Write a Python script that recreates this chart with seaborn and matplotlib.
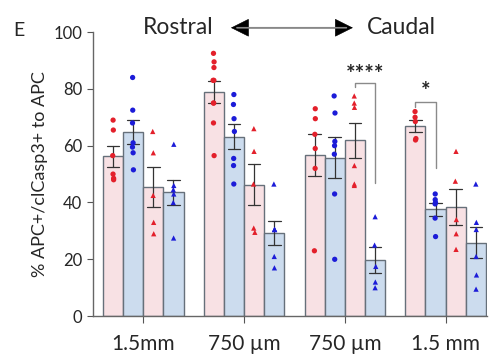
import numpy as np
import pandas as pd
import matplotlib.pyplot as plt
import seaborn as sns

## categories (rostral -> caudal) and tick labels
regions = ['rostral_1.5', 'rostral_750', 'caudal_750', 'caudal_1.5']
tick_labels = ['1.5mm', '750 µm', '750 µm', '1.5 mm']
series = ['red_circle', 'blue_circle', 'red_triangle', 'blue_triangle']

## individual points (% APC+/clCasp3+ to APC)
red_circle = [
    [69, 65.5, 56.5, 50, 48, 48.5],
    [92.5, 89.5, 87.5, 83, 83, 75, 75, 68, 56.5],
    [73, 69.5, 64, 59, 52, 23],
    [72, 70, 68.5, 62.5, 62],
]
blue_circle = [
    [84, 72.5, 68, 61, 59.5, 57.5, 51.5],
    [78, 74.5, 69.5, 65, 55.5, 53, 46.5],
    [77.5, 71.5, 61.5, 60, 57, 43, 20],
    [43, 41, 40, 39.5, 34.5, 28],
]
red_triangle = [
    [65, 57.5, 42.5, 33, 29],
    [66, 58, 46.5, 31, 29.5],
    [77.5, 75, 73.5, 53, 46, 46.5],
    [58, 47.5, 34, 29, 23.5],
]
blue_triangle = [
    [60.5, 46, 44.5, 43, 40, 27.5],
    [46.5, 30.5, 30.5, 30.5, 21, 17],
    [35, 25, 17.5, 12, 10],
    [46.5, 33, 30.5, 21, 14.5, 9.5],
]

rows = []
for name, vals in zip(series, [red_circle, blue_circle, red_triangle, blue_triangle]):
    for reg, pts in zip(regions, vals):
        for v in pts:
            rows.append({'region': reg, 'series': name, 'value': v})
df = pd.DataFrame(rows)

fill_colors = {'red_circle': '#fcdde1', 'blue_circle': '#c6dcf4',
               'red_triangle': '#fcdde1', 'blue_triangle': '#c6dcf4'}
point_colors = {'red_circle': '#e3202b', 'blue_circle': '#1c1cd8',
                'red_triangle': '#e3202b', 'blue_triangle': '#1c1cd8'}

sns.set_style('white')
plt.rcParams['font.family'] = ['Lato', 'DejaVu Sans']

fig = plt.figure(figsize=(5.02, 3.56), dpi=100)
ax = fig.add_axes([0.185, 0.112, 0.785, 0.798])

sns.barplot(data=df, x='region', y='value', hue='series', order=regions,
            hue_order=series, palette=fill_colors, errorbar='se', capsize=0.5,
            err_kws={'color': '#333333', 'linewidth': 0.9},
            edgecolor='#66707a', linewidth=1, legend=False, ax=ax)

np.random.seed(3)
sns.stripplot(data=df[df.series.isin(['red_circle', 'blue_circle'])],
              x='region', y='value', hue='series', order=regions,
              hue_order=series, palette=point_colors, dodge=True, jitter=0.03,
              marker='o', size=3.8, linewidth=0, legend=False, zorder=3, ax=ax)
sns.stripplot(data=df[df.series.isin(['red_triangle', 'blue_triangle'])],
              x='region', y='value', hue='series', order=regions,
              hue_order=series, palette=point_colors, dodge=True, jitter=0.03,
              marker='^', size=3.8, linewidth=0, legend=False, zorder=3, ax=ax)

ax.set_xlim(-0.5, 3.41)
ax.set_ylim(0, 100)
ax.set_yticks(range(0, 101, 20))
ax.set_xticks(range(4))
ax.set_xticklabels(tick_labels, fontsize=15)
ax.tick_params(axis='y', labelsize=12, length=4, color='#555555', direction='out', left=True)
ax.tick_params(axis='x', length=5, color='#555555', direction='out', bottom=True, pad=8)
ax.set_xlabel('')
ax.set_ylabel('% APC+/clCasp3+ to APC', fontsize=13)
for s in ['top', 'right']:
    ax.spines[s].set_visible(False)
for s in ['left', 'bottom']:
    ax.spines[s].set_color('#666666')
    ax.spines[s].set_linewidth(1)

## significance brackets
def xpos(i, j):
    return i - 0.3 + 0.2 * j

def bracket(i, j1, j2, top, left_end, right_end, label, ly):
    x1, x2 = xpos(i, j1), xpos(i, j2)
    ax.plot([x1, x1, x2, x2], [left_end, top, top, right_end], color='#8a8a8a', lw=1, zorder=4)
    ax.text((x1 + x2) / 2, ly, label, ha='center', va='center', fontsize=16, fontweight='bold')

bracket(2, 2, 3, 82, 80.5, 47, '****', 85)
bracket(3, 0, 1, 75.5, 73.5, 52, '*', 79)

## header
fig.text(0.026, 0.915, 'E', fontsize=14, va='center')
fig.text(0.355, 0.922, 'Rostral', fontsize=16.5, ha='center', va='center')
fig.text(0.800, 0.922, 'Caudal', fontsize=16.5, ha='center', va='center')
ax.annotate('', xy=(0.690, 0.922), xytext=(0.472, 0.922), xycoords='figure fraction',
            textcoords='figure fraction',
            arrowprops=dict(arrowstyle='-', color='#888888', lw=1))
ax.annotate('', xy=(0.703, 0.922), xytext=(0.460, 0.922), xycoords='figure fraction',
            textcoords='figure fraction',
            arrowprops=dict(arrowstyle='<|-|>,head_length=0.6,head_width=0.3', color='black',
                            lw=0.5, mutation_scale=20, shrinkA=0, shrinkB=0))
ax.annotate('', xy=(0.690, 0.922), xytext=(0.472, 0.922), xycoords='figure fraction',
            textcoords='figure fraction',
            arrowprops=dict(arrowstyle='-', color='#888888', lw=1.2, shrinkA=0, shrinkB=0))

fig.savefig('out.png', dpi=100)
